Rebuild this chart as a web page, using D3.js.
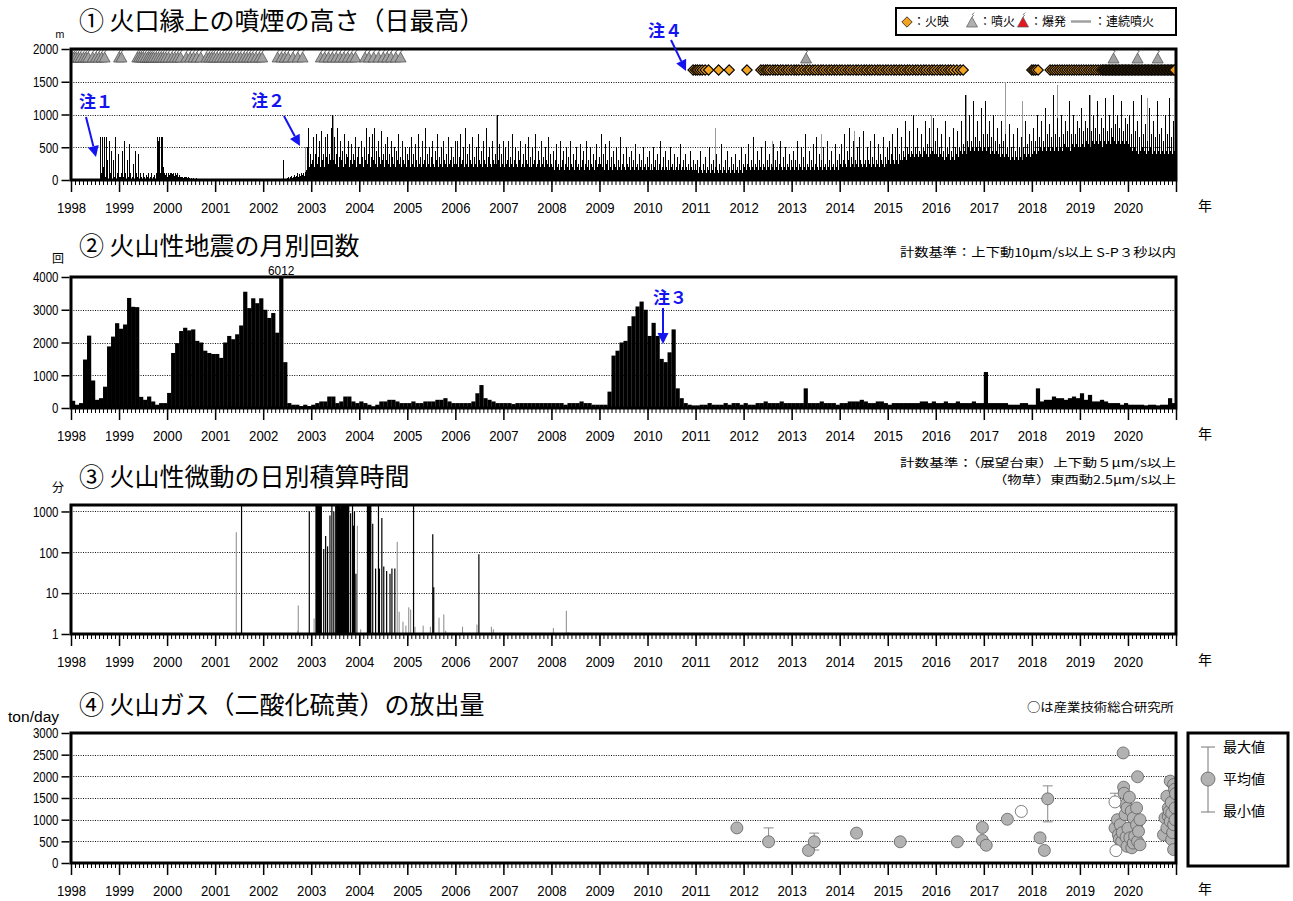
<!DOCTYPE html>
<html lang="ja">
<head>
<meta charset="utf-8">
<title>火山活動経過図</title>
<script src="https://cdn.jsdelivr.net/npm/d3@7/dist/d3.min.js"></script>
<style>
html,body{margin:0;padding:0;background:#fff;}
svg{display:block;}
</style>
</head>
<body>
<svg id="chart" width="1293" height="901"></svg>
<script>
// ---------- tick labels ----------
const yearTicks = [1998,1999,2000,2001,2002,2003,2004,2005,2006,2007,2008,2009,2010,2011,2012,2013,2014,2015,2016,2017,2018,2019,2020];
const plumeTicks = [0,500,1000,1500,2000];
const quakeTicks = [0,1000,2000,3000,4000];
const tremorTicks = [1,10,100,1000];
const gasTicks = [0,500,1000,1500,2000,2500,3000];

// ---------- ① daily maximum plume height (m), 48 samples per year ----------
const plume1998 = [0,0,0,0,0,0,0,0,0,0,0,0,0,0,0,0,0,0,0,0,0,0,0,0,0,0,0,0,650,100,650,200,650,50,650,300,0,600,100,450,0,300,50,650,0,100,400,50];
const plume1999 = [50,100,450,50,600,100,0,300,50,550,100,0,50,250,0,450,100,50,400,0,100,50,0,100,50,0,80,50,100,0,50,100,0,50,80,0,100,650,600,650,100,650,650,200,100,80,100,50];
const plume2000 = [100,80,100,100,90,100,60,100,80,100,50,70,50,40,50,30,40,50,40,30,40,30,20,30,20,30,20,20,30,20,20,20,10,20,20,10,20,10,10,20,10,10,10,20,10,10,10,10];
const plume2001 = [10,0,10,0,0,10,0,0,10,0,0,0,10,0,0,0,10,0,0,0,0,10,0,0,0,0,0,10,0,0,0,0,10,0,0,0,0,0,10,0,0,0,0,10,0,0,0,0];
const plume2002 = [10,0,10,0,10,0,0,10,0,10,0,10,0,0,10,0,10,0,10,300,10,0,10,30,50,20,40,60,30,50,80,40,60,100,50,90,60,100,80,100,60,120,150,500,800,200,400,250];
const plume2003 = [300,650,200,400,700,250,350,600,200,750,300,400,200,650,350,700,250,400,300,800,1000,300,650,250,400,800,200,350,600,300,450,200,700,250,400,350,600,200,300,550,250,400,300,650,200,350,500,250];
const plume2004 = [250,600,350,200,500,300,800,250,400,650,200,350,700,300,800,250,450,200,600,350,250,750,300,400,200,550,300,650,250,400,200,600,350,250,500,200,450,300,700,250,350,200,600,300,250,500,200,400];
const plume2005 = [300,500,200,650,250,400,200,550,300,200,700,250,350,200,600,250,300,800,200,400,250,500,200,350,600,250,200,450,300,700,200,350,250,500,200,600,300,250,400,200,650,250,300,500,200,350,250,600];
const plume2006 = [250,600,200,350,700,250,300,500,200,800,250,400,200,550,300,250,650,200,350,250,500,200,700,300,250,450,200,600,300,250,800,200,350,500,250,200,600,300,250,400,250,1000,300,550,200,400,250,600];
const plume2007 = [200,500,250,300,600,200,350,250,700,200,300,500,250,200,450,300,600,200,250,400,200,550,300,250,650,200,350,200,500,250,300,700,200,250,450,300,200,600,250,350,200,500,300,250,650,200,400,250];
const plume2008 = [200,450,150,300,550,200,250,150,600,200,300,450,150,250,500,200,350,150,600,250,200,400,150,300,500,200,250,150,550,200,300,450,150,250,600,200,300,150,500,250,200,400,150,300,550,200,250,350];
const plume2009 = [250,700,200,400,150,550,250,300,150,600,200,350,150,450,250,200,500,150,300,200,650,150,250,400,200,150,500,250,200,350,150,450,200,300,150,550,200,250,150,400,200,300,150,500,200,250,150,350];
const plume2010 = [200,450,150,250,150,500,200,300,150,400,150,250,600,150,200,350,150,450,200,150,300,150,500,200,250,150,400,150,200,350,150,250,550,150,200,300,150,400,200,150,250,150,450,200,150,300,150,250];
const plume2011 = [150,300,100,200,450,150,100,250,150,350,100,200,150,500,100,250,150,300,100,200,400,150,100,250,150,550,100,200,150,300,100,450,150,200,100,350,150,250,100,400,150,200,100,300,150,500,100,250];
const plume2012 = [200,400,150,250,550,200,150,300,200,650,150,250,200,450,150,300,200,500,150,250,200,600,150,300,200,400,150,250,200,550,150,300,200,450,150,250,600,200,150,350,200,500,150,250,200,400,150,300];
const plume2013 = [200,450,150,300,200,600,150,250,200,500,150,350,200,700,150,250,200,450,150,300,200,550,150,250,650,200,150,400,200,300,150,500,200,250,150,600,200,300,150,450,200,250,150,550,200,300,150,400];
const plume2014 = [250,550,200,300,700,250,200,450,300,800,200,350,250,600,200,300,250,500,200,650,300,250,200,750,250,300,200,500,300,250,600,200,350,250,700,200,300,250,550,200,400,300,250,650,200,350,250,500];
const plume2015 = [300,600,250,400,700,300,250,500,300,800,250,400,300,650,300,450,350,900,300,500,400,750,350,450,400,1000,350,500,400,800,350,450,400,700,350,500,450,900,400,550,350,800,400,500,450,950,400,600];
const plume2016 = [400,800,350,500,400,700,350,450,300,900,350,500,400,650,300,450,350,800,300,500,400,750,350,500,450,900,400,550,450,1300,400,600,500,1000,450,600,500,1200,450,650,500,900,450,600,500,1100,450,700];
const plume2017 = [500,1200,450,700,500,900,400,650,450,1000,400,600,450,800,400,550,350,900,400,600,350,700,400,500,350,850,300,500,350,700,300,450,350,800,300,500,350,650,300,500,400,900,350,550,400,700,350,600];
const plume2018 = [400,800,450,600,400,1000,450,650,500,900,450,600,500,1100,450,700,500,850,450,650,500,1300,450,700,500,950,450,650,500,1000,450,700,550,900,500,750,500,1200,450,700,550,1000,500,700,550,900,500,800];
const plume2019 = [500,1100,550,750,500,900,600,800,550,1300,500,750,600,1000,550,800,600,1200,550,700,600,950,500,800,600,1250,550,750,600,1000,550,800,650,1300,600,850,550,1000,600,800,550,1200,600,750,550,950,600,850];
const plume2020 = [550,1000,500,700,450,1200,500,750,450,900,400,650,450,1300,500,700,450,850,400,600,450,1100,500,700,400,900,450,650,400,1200,450,700,400,800,450,600,400,1000,450,700,400,1250,450,650,400,900,450,800];

// grey records (reported from other observation points)
const faintPlumeDates   = [2002.88,2003.45,2006.85,2011.40,2012.60,2013.62,2014.30,2015.90,2016.62,2017.44,2017.80,2018.52,2019.22,2020.40];
const faintPlumeHeights = [500,1000,1000,800,600,700,750,1000,1300,1500,1200,1450,1300,1250];

// eruption marks (噴火)
const eruptionDates = [1998.02,1998.06,1998.10,1998.15,1998.20,1998.26,1998.31,1998.36,1998.45,1998.52,1998.58,1998.64,1998.70,
  1999.00,1999.05,
  1999.38,1999.42,1999.46,1999.50,1999.55,1999.60,1999.64,1999.68,1999.72,1999.77,1999.82,1999.87,1999.92,1999.97,2000.03,2000.10,2000.16,2000.22,2000.28,
  2000.40,2000.48,2000.55,2000.62,2000.70,
  2000.82,2000.88,2000.93,2000.98,2001.04,2001.10,2001.16,2001.22,2001.28,2001.34,2001.40,2001.47,2001.53,2001.60,2001.66,2001.72,2001.78,2001.85,2001.92,2001.98,
  2002.30,2002.38,2002.45,2002.52,2002.62,2002.72,2002.82,
  2003.20,2003.28,2003.36,2003.44,2003.52,2003.60,2003.68,2003.76,2003.84,2003.92,
  2004.12,2004.20,2004.30,2004.40,2004.50,2004.58,2004.66,2004.76,2004.86,
  2013.30,2019.70,2020.20,2020.62];

// incandescence marks (火映)
const glowDates = [2010.95,2011.00,2011.04,2011.09,2011.14,2011.20,2011.27,
  2011.48,2011.70,2012.07,
  2012.36,2012.41,2012.46,2012.50,2012.55,2012.61,2012.66,2012.71,2012.77,2012.82,2012.88,2012.93,2012.99,2013.05,2013.10,2013.15,2013.21,2013.27,2013.33,2013.38,
  2013.44,2013.49,2013.55,2013.61,2013.66,2013.72,2013.78,2013.83,2013.89,2013.94,2014.00,2014.05,2014.11,2014.17,2014.22,2014.28,2014.34,2014.39,2014.45,2014.51,
  2014.56,2014.62,2014.67,2014.73,2014.79,2014.84,2014.90,2014.96,2015.01,2015.07,2015.13,2015.18,2015.24,2015.29,2015.35,2015.41,2015.46,2015.52,2015.58,2015.63,
  2015.69,2015.75,2015.80,2015.86,2015.92,2015.97,2016.03,2016.09,2016.14,2016.20,2016.26,2016.31,2016.37,2016.44,2016.51,2016.57,
  2018.00,2018.04,2018.08,2018.13,
  2018.38,2018.43,2018.48,2018.53,2018.58,2018.63,2018.68,2018.73,2018.78,2018.83,2018.88,2018.93,2018.98,2019.03,2019.08,2019.13,2019.18,2019.23,2019.28,2019.33,2019.38,2019.43,2019.47,
  2019.50,2019.53,2019.56,2019.59,2019.62,2019.65,2019.68,2019.71,2019.74,2019.77,2019.80,2019.83,2019.86,2019.89,2019.92,2019.95,2019.98,2020.01,2020.04,2020.07,
  2020.10,2020.13,2020.16,2020.19,2020.22,2020.25,2020.28,2020.31,2020.34,2020.37,2020.40,2020.43,2020.46,2020.49,2020.52,2020.55,2020.58,2020.61,2020.64,2020.67,
  2020.70,2020.73,2020.76,2020.79,2020.82,2020.85,2020.88,2020.91,2020.94,2020.97];

// ---------- ② monthly number of volcanic earthquakes ----------
const quake1998 = [220,100,150,1480,2210,840,250,300,650,1880,2180,2590];
const quake1999 = [2420,2550,3360,3090,3080,340,250,350,200,100,150,150];
const quake2000 = [460,1680,1980,2350,2450,2370,2400,2050,2000,1750,1680,1650];
const quake2001 = [1650,1530,2000,2200,2100,2250,2520,3550,3050,3350,3200,3350];
const quake2002 = [3000,2750,2900,2300,6012,1400,150,100,100,60,100,60];
const quake2003 = [100,150,200,200,350,350,150,200,350,350,200,150];
const quake2004 = [200,150,100,50,100,200,200,250,250,200,150,150];
const quake2005 = [150,200,150,150,200,200,200,250,250,300,200,150];
const quake2006 = [150,150,150,150,200,450,700,300,250,200,150,150];
const quake2007 = [150,150,120,150,150,150,150,150,150,150,150,150];
const quake2008 = [150,150,150,100,150,150,150,200,150,150,100,100];
const quake2009 = [100,100,500,1600,1750,2000,2050,2500,2800,3100,3250,3000];
const quake2010 = [2200,2600,2200,1500,1400,1700,2400,600,300,150,100,80];
const quake2011 = [80,100,100,150,100,100,100,150,100,150,150,100];
const quake2012 = [150,100,100,150,150,200,150,150,150,200,150,150];
const quake2013 = [150,150,150,600,150,150,150,200,150,150,150,100];
const quake2014 = [150,150,200,200,200,250,200,150,150,200,200,150];
const quake2015 = [100,150,150,150,150,150,150,150,200,200,150,200];
const quake2016 = [150,150,200,150,150,200,150,150,150,200,150,150];
const quake2017 = [1100,150,150,150,150,150,100,100,100,150,150,100];
const quake2018 = [100,600,200,250,250,350,300,300,250,300,350,300];
const quake2019 = [450,250,400,200,200,250,200,150,150,150,100,150];
const quake2020 = [100,100,100,100,80,100,100,80,100,100,300,150];

// ---------- ③ daily accumulated duration of volcanic tremor (min) ----------
const tremorDates = [2001.55,2002.96,
  2003.10,2003.11,2003.12,2003.13,2003.14,2003.15,2003.16,2003.17,2003.18,2003.19,2003.20,2003.21,
  2003.26,2003.30,2003.34,2003.39,2003.43,2003.47,2003.51,
  2003.53,2003.54,2003.55,2003.56,2003.57,2003.58,2003.59,2003.60,2003.61,2003.62,2003.63,2003.64,2003.65,2003.66,2003.67,2003.68,2003.69,2003.70,2003.71,2003.72,2003.73,2003.74,2003.75,2003.76,2003.77,2003.78,
  2003.82,2003.86,2003.88,2003.90,2003.93,
  2004.17,2004.18,2004.19,2004.20,2004.21,2004.22,2004.23,2004.24,
  2004.28,2004.34,2004.40,2004.42,2004.47,2004.51,2004.57,2004.64,2004.68,2004.74,
  2005.13,2005.53,2005.55,2006.49];
const tremorMinutes = [1440,1000,
  1440,1440,1440,1440,1440,1440,1440,1440,1440,1440,1440,1440,
  120,250,140,800,1440,1000,1440,
  1440,1440,1440,1440,1440,1440,1440,1440,1200,1440,1440,1440,1440,1440,1440,1440,1440,800,1440,1440,1440,1440,1440,1440,1440,1440,
  900,1440,450,1000,30,
  1440,1440,1440,1440,1440,1440,1440,1440,
  500,40,1440,40,690,45,35,30,40,40,
  1440,275,14,90];
const faintTremorDates   = [2001.44,2002.72,2002.73,2003.06,2003.96,2004.03,2004.79,2004.83,2004.91,2004.97,2005.03,2005.07,2005.16,2005.33,2005.48,2005.66,2005.76,2005.80,2006.15,2006.45,2006.75,2006.79,2008.04,2008.31,2008.35];
const faintTremorMinutes = [310,1.2,5,2.4,450,1.3,180,3.5,2,1.6,4.5,4,1.5,1.6,1.5,2.5,3,1.2,1.5,1.7,1.5,1.3,1.4,3.7,1.1];

// ---------- ④ SO2 emission rate (ton/day) ----------
const so2Dates = [2011.86,2012.52,2013.35,2013.47,2014.35,2015.26,2016.45,2016.97,2016.97,2017.05,2017.49,2018.17,2018.26,2018.33,
  2019.73,2019.78,2019.80,2019.82,2019.84,2019.87,2019.88,2019.90,2019.91,2019.92,2019.94,2019.95,2019.96,2019.98,2019.98,2020.00,2020.03,2020.04,2020.07,2020.08,
  2020.11,2020.11,2020.14,2020.18,2020.18,2020.20,2020.20,2020.22,2020.25,2020.25,
  2020.74,2020.77,2020.81,2020.81,2020.84,2020.84,2020.86,2020.88,2020.88,2020.90,2020.91,2020.91,2020.93,2020.95,2020.95,2020.95,2020.97,2020.98,2020.98,2020.99];
const so2Values = [810,490,290,490,690,490,490,820,520,410,1010,580,290,1480,
  810,1000,650,550,885,500,700,2540,1750,1610,1115,1350,600,385,1270,800,1520,580,1200,350,
  1040,460,620,1270,880,1990,500,730,1000,420,
  650,1040,1540,810,1270,1080,1190,1890,960,1400,1150,540,700,1810,885,310,1700,1270,1000,1600];
const so2RangeDates = [2012.52,2013.47,2018.33];
const so2RangeMax   = [810,690,1780];
const so2RangeMin   = [430,300,950];
// measured by 産業技術総合研究所
const aistDates  = [2017.78,2019.73,2019.75];
const aistValues = [1190,1410,285];
const aistMax    = [null,1610,null];

// ---------- drawing ----------
const svg = d3.select("#chart");
const X0 = 71, X1 = 1176;
const x = d3.scaleLinear().domain([1998, 2021]).range([X0, X1]);
const latin = '"Liberation Sans","Arial",sans-serif';
const jp = '"Noto Sans CJK JP","Noto Sans CJK SC",sans-serif';
const blue = "#1414f0";

// squeeze numeric labels to a narrow gothic width
function condense(sel, perChar) {
  sel.each(function () {
    const n = this.textContent.length;
    if (n > 0) d3.select(this).attr("textLength", n * perChar).attr("lengthAdjust", "spacingAndGlyphs");
  });
}

function makePanel(id, top, bottom, y, ticks) {
  const g = svg.append("g");
  svg.append("clipPath").attr("id", id).append("rect")
    .attr("x", X0).attr("y", top).attr("width", X1 - X0).attr("height", bottom - top);
  g.append("g").selectAll("line")
    .data(ticks.filter(t => y(t) > top + 3 && y(t) < bottom - 3))
    .join("line")
    .attr("x1", X0).attr("x2", X1)
    .attr("y1", d => Math.round(y(d)) + 0.5).attr("y2", d => Math.round(y(d)) + 0.5)
    .attr("stroke", "#111").attr("stroke-width", 1).attr("stroke-dasharray", "1,1.4");
  const data = g.append("g").attr("clip-path", `url(#${id})`);
  return {g, data, top, bottom, y, ticks};
}

function finishPanel(p) {
  p.g.append("rect").attr("x", X0).attr("y", p.top).attr("width", X1 - X0).attr("height", p.bottom - p.top)
    .attr("fill", "none").attr("stroke", "#000").attr("stroke-width", 3);
  const ya = p.g.append("g").attr("transform", `translate(${X0 - 1.5},0)`)
    .call(d3.axisLeft(p.y).tickValues(p.ticks).tickFormat(d3.format("d")).tickSize(8).tickPadding(3));
  ya.select(".domain").remove();
  ya.selectAll("line").attr("stroke-width", 1.5);
  ya.selectAll("text").style("font-family", latin).style("font-size", "15px");
  condense(ya.selectAll("text"), 6.4);
  const months = d3.range(0, 23 * 12 + 1).map(m => 1998 + m / 12);
  const xm = p.g.append("g").attr("transform", `translate(0,${p.bottom + 1})`)
    .call(d3.axisBottom(x).tickValues(months).tickSize(4).tickFormat(""));
  xm.select(".domain").remove();
  const xa = p.g.append("g").attr("transform", `translate(0,${p.bottom + 1})`)
    .call(d3.axisBottom(x).tickValues(yearTicks.concat([2021])).tickSize(11).tickPadding(11)
      .tickFormat(d => yearTicks.includes(d) ? String(d) : ""));
  xa.select(".domain").remove();
  xa.selectAll("line").attr("stroke-width", 1.5);
  xa.selectAll("text").style("font-family", latin).style("font-size", "14.5px");
  condense(xa.selectAll("text"), 7.3);
  svg.append("text").attr("x", 1205).attr("y", p.bottom + 31).attr("text-anchor", "middle")
    .style("font-family", jp).style("font-size", "14px").text("年");
}

function title(txt, yBase) {
  svg.append("text").attr("x", 79).attr("y", yBase).style("font-family", jp).style("font-size", "25px").text(txt);
}
function unit(txt, xPos, yBase, size) {
  svg.append("text").attr("x", xPos).attr("y", yBase).attr("text-anchor", "middle")
    .style("font-family", jp).style("font-size", size + "px").text(txt);
}
function note(txt, xStart, xEnd, yBase, size) {
  svg.append("text").attr("x", xStart).attr("y", yBase)
    .attr("textLength", xEnd - xStart).attr("lengthAdjust", "spacingAndGlyphs")
    .style("font-family", jp).style("font-size", (size || 12) + "px").text(txt);
}

const eruptionPath = "M-5.5,0L0,-10L5.5,0Z";
const plumePath = "M0,-10l1.6,-1.6l-1.4,-0.8l2,-2";
const diamondPath = "M0,-5.2L5.2,0L0,5.2L-5.2,0Z";

// ---- panel ① ----
title("① 火口縁上の噴煙の高さ（日最高）", 30);
unit("m", 60, 38, 10);
const y1 = d3.scaleLinear().domain([0, 2000]).range([180, 49]);
const p1 = makePanel("clip1", 49, 180, y1, plumeTicks);

const plumeYears = [[1998,plume1998],[1999,plume1999],[2000,plume2000],[2001,plume2001],[2002,plume2002],[2003,plume2003],
  [2004,plume2004],[2005,plume2005],[2006,plume2006],[2007,plume2007],[2008,plume2008],[2009,plume2009],[2010,plume2010],
  [2011,plume2011],[2012,plume2012],[2013,plume2013],[2014,plume2014],[2015,plume2015],[2016,plume2016],[2017,plume2017],
  [2018,plume2018],[2019,plume2019],[2020,plume2020]];
const plumeRecords = plumeYears.flatMap(([yr, vals]) => vals.map((v, i) => ({t: yr + (i + 0.5) / vals.length, v})))
  .filter(d => d.v > 0);

p1.data.append("g").attr("shape-rendering", "crispEdges").selectAll("line")
  .data(faintPlumeDates.map((t, i) => ({t, v: faintPlumeHeights[i]}))).join("line")
  .attr("x1", d => Math.round(x(d.t)) + 0.5).attr("x2", d => Math.round(x(d.t)) + 0.5)
  .attr("y1", y1(0)).attr("y2", d => y1(d.v)).attr("stroke", "#9a9a9a").attr("stroke-width", 1);
p1.data.append("g").attr("shape-rendering", "crispEdges").selectAll("line").data(plumeRecords).join("line")
  .attr("x1", d => Math.round(x(d.t)) + 0.5).attr("x2", d => Math.round(x(d.t)) + 0.5)
  .attr("y1", y1(0)).attr("y2", d => y1(d.v)).attr("stroke", "#000").attr("stroke-width", 1);

// incandescence diamonds
p1.data.append("g").selectAll("path").data(glowDates).join("path")
  .attr("d", diamondPath).attr("transform", d => `translate(${x(d)},70)`)
  .attr("fill", "#f2a31f").attr("stroke", "#000").attr("stroke-width", 1.1);
// eruption marks
const eg = p1.data.append("g").selectAll("g").data(eruptionDates).join("g")
  .attr("transform", d => `translate(${x(d)},${d > 2010 ? 63 : 62})`);
eg.append("path").attr("d", eruptionPath).attr("fill", "#a2a2a2").attr("stroke", "#4a4a4a").attr("stroke-width", 0.7);
eg.append("path").attr("d", plumePath).attr("fill", "none").attr("stroke", "#4a4a4a").attr("stroke-width", 0.8);
finishPanel(p1);

// legend for panel ①
const lg = svg.append("g");
lg.append("rect").attr("x", 896).attr("y", 8).attr("width", 280).attr("height", 27)
  .attr("fill", "#fff").attr("stroke", "#000").attr("stroke-width", 2);
lg.append("path").attr("d", diamondPath).attr("transform", "translate(907,22)")
  .attr("fill", "#f2a31f").attr("stroke", "#1a1a1a").attr("stroke-width", 0.8);
lg.append("text").attr("x", 913).attr("y", 26).style("font-family", jp).style("font-size", "12px").text("：火映");
lg.append("path").attr("d", eruptionPath).attr("transform", "translate(972,27)").attr("fill", "#b0b0b0").attr("stroke", "#5a5a5a").attr("stroke-width", 0.7);
lg.append("path").attr("d", plumePath).attr("transform", "translate(972,27)").attr("fill", "none").attr("stroke", "#5a5a5a").attr("stroke-width", 0.8);
lg.append("text").attr("x", 979).attr("y", 26).style("font-family", jp).style("font-size", "12px").text("：噴火");
lg.append("path").attr("d", eruptionPath).attr("transform", "translate(1023,27)").attr("fill", "#e8141e").attr("stroke", "#5a5a5a").attr("stroke-width", 0.7);
lg.append("path").attr("d", plumePath).attr("transform", "translate(1023,27)").attr("fill", "none").attr("stroke", "#5a5a5a").attr("stroke-width", 0.8);
lg.append("text").attr("x", 1030).attr("y", 26).style("font-family", jp).style("font-size", "12px").text("：爆発");
lg.append("line").attr("x1", 1071).attr("x2", 1091).attr("y1", 21.5).attr("y2", 21.5).attr("stroke", "#a0a0a0").attr("stroke-width", 2.5);
lg.append("text").attr("x", 1094).attr("y", 26).style("font-family", jp).style("font-size", "12px").text("：連続噴火");

// ---- panel ② ----
title("② 火山性地震の月別回数", 255);
unit("回", 58, 263, 12);
note("計数基準：上下動10μm/s以上 S-P３秒以内", 900, 1176, 257);
const y2 = d3.scaleLinear().domain([0, 4000]).range([408, 277]);
const p2 = makePanel("clip2", 277, 408, y2, quakeTicks);
const quakeYears = [[1998,quake1998],[1999,quake1999],[2000,quake2000],[2001,quake2001],[2002,quake2002],[2003,quake2003],
  [2004,quake2004],[2005,quake2005],[2006,quake2006],[2007,quake2007],[2008,quake2008],[2009,quake2009],[2010,quake2010],
  [2011,quake2011],[2012,quake2012],[2013,quake2013],[2014,quake2014],[2015,quake2015],[2016,quake2016],[2017,quake2017],
  [2018,quake2018],[2019,quake2019],[2020,quake2020]];
const quakeRecords = quakeYears.flatMap(([yr, vals]) => vals.map((v, m) => ({t0: yr + m / 12, t1: yr + (m + 1) / 12, v})));
p2.data.append("g").selectAll("rect").data(quakeRecords).join("rect")
  .attr("x", d => x(d.t0)).attr("width", d => x(d.t1) - x(d.t0) + 0.2)
  .attr("y", d => y2(d.v)).attr("height", d => y2(0) - y2(d.v)).attr("fill", "#000");
// value of the off-scale month
const over = quakeRecords.filter(d => d.v > 4000);
const overText = svg.append("g").selectAll("text").data(over).join("text")
  .attr("x", d => x((d.t0 + d.t1) / 2)).attr("y", 275).attr("text-anchor", "middle")
  .style("font-family", latin).style("font-size", "13px").text(d => d.v);
condense(overText, 6.6);
finishPanel(p2);

// ---- panel ③ ----
title("③ 火山性微動の日別積算時間", 486);
unit("分", 58, 492, 12);
note("計数基準：（展望台東）上下動５μm/s以上", 900, 1176, 467, 11.5);
note("（物草）東西動2.5μm/s以上", 993, 1176, 484, 11.5);
const y3 = d3.scaleLog().domain([1, 1440]).range([634, 505]);
const p3 = makePanel("clip3", 505, 634, y3, tremorTicks);
p3.data.append("g").selectAll("line").data(faintTremorDates.map((t, i) => ({t, v: faintTremorMinutes[i]}))).join("line")
  .attr("x1", d => x(d.t)).attr("x2", d => x(d.t))
  .attr("y1", y3(1)).attr("y2", d => y3(d.v)).attr("stroke", "#888").attr("stroke-width", 1);
p3.data.append("g").selectAll("line").data(tremorDates.map((t, i) => ({t, v: tremorMinutes[i]}))).join("line")
  .attr("x1", d => x(d.t)).attr("x2", d => x(d.t))
  .attr("y1", y3(1)).attr("y2", d => y3(d.v)).attr("stroke", "#000").attr("stroke-width", 1.2);
finishPanel(p3);

// ---- panel ④ ----
title("④ 火山ガス（二酸化硫黄）の放出量", 714);
const tpd = svg.append("text").attr("x", 8).attr("y", 722)
  .style("font-family", latin).style("font-size", "14px").text("ton/day");
condense(tpd, 7.3);
note("○は産業技術総合研究所", 1027, 1174, 712);
const y4 = d3.scaleLinear().domain([0, 3000]).range([863, 733]);
const p4 = makePanel("clip4", 733, 863, y4, gasTicks);
const rangeG = p4.data.append("g").attr("stroke", "#8a8a8a").attr("stroke-width", 1);
so2RangeDates.forEach((t, i) => {
  rangeG.append("line").attr("x1", x(t)).attr("x2", x(t)).attr("y1", y4(so2RangeMin[i])).attr("y2", y4(so2RangeMax[i]));
  rangeG.append("line").attr("x1", x(t) - 5).attr("x2", x(t) + 5).attr("y1", y4(so2RangeMax[i])).attr("y2", y4(so2RangeMax[i]));
  rangeG.append("line").attr("x1", x(t) - 5).attr("x2", x(t) + 5).attr("y1", y4(so2RangeMin[i])).attr("y2", y4(so2RangeMin[i]));
});
aistDates.forEach((t, i) => {
  if (aistMax[i] != null) {
    rangeG.append("line").attr("x1", x(t)).attr("x2", x(t)).attr("y1", y4(aistValues[i])).attr("y2", y4(aistMax[i]));
    rangeG.append("line").attr("x1", x(t) - 5).attr("x2", x(t) + 5).attr("y1", y4(aistMax[i])).attr("y2", y4(aistMax[i]));
  }
});
p4.data.append("g").selectAll("circle").data(so2Dates.map((t, i) => ({t, v: so2Values[i]}))).join("circle")
  .attr("cx", d => x(d.t)).attr("cy", d => y4(d.v)).attr("r", 6)
  .attr("fill", "#b2b2b2").attr("stroke", "#606060").attr("stroke-width", 0.8);
p4.data.append("g").selectAll("circle").data(aistDates.map((t, i) => ({t, v: aistValues[i]}))).join("circle")
  .attr("cx", d => x(d.t)).attr("cy", d => y4(d.v)).attr("r", 6)
  .attr("fill", "#fff").attr("stroke", "#606060").attr("stroke-width", 0.8);
finishPanel(p4);

// legend for panel ④
const lg4 = svg.append("g");
lg4.append("rect").attr("x", 1188).attr("y", 733).attr("width", 100).attr("height", 133)
  .attr("fill", "#fff").attr("stroke", "#000").attr("stroke-width", 3);
lg4.append("line").attr("x1", 1208).attr("x2", 1208).attr("y1", 747).attr("y2", 812).attr("stroke", "#777").attr("stroke-width", 1);
lg4.append("line").attr("x1", 1201).attr("x2", 1215).attr("y1", 747).attr("y2", 747).attr("stroke", "#777").attr("stroke-width", 1);
lg4.append("line").attr("x1", 1201).attr("x2", 1215).attr("y1", 812).attr("y2", 812).attr("stroke", "#777").attr("stroke-width", 1);
lg4.append("circle").attr("cx", 1208).attr("cy", 779).attr("r", 7).attr("fill", "#b2b2b2").attr("stroke", "#606060").attr("stroke-width", 0.8);
[["最大値", 752], ["平均値", 784], ["最小値", 816]].forEach(([t, yy]) => {
  lg4.append("text").attr("x", 1223).attr("y", yy).style("font-family", jp).style("font-size", "14px").text(t);
});

// ---- notes (注) ----
function arrow(x1, y1, x2, y2) {
  const a = Math.atan2(y2 - y1, x2 - x1), L = 11, W = 5.5;
  const bx = x2 - L * Math.cos(a), by = y2 - L * Math.sin(a);
  svg.append("line").attr("x1", x1).attr("y1", y1).attr("x2", bx).attr("y2", by).attr("stroke", blue).attr("stroke-width", 2);
  svg.append("path").attr("d", `M${x2},${y2}L${bx - W * Math.sin(a)},${by + W * Math.cos(a)}L${bx + W * Math.sin(a)},${by - W * Math.cos(a)}Z`).attr("fill", blue);
}
function noteLabel(txt, cx, cy) {
  svg.append("text").attr("x", cx).attr("y", cy + 6).attr("text-anchor", "middle")
    .style("font-family", jp).style("font-size", "17px").style("font-weight", "bold").attr("fill", blue).text(txt);
}
noteLabel("注１", 96, 102); arrow(86, 117, 96, 157);
noteLabel("注２", 268, 101); arrow(284, 116, 300, 146);
noteLabel("注３", 670, 298); arrow(663, 308, 663, 344);
noteLabel("注４", 665, 31); arrow(671, 40, 686, 71);
</script>
</body>
</html>
